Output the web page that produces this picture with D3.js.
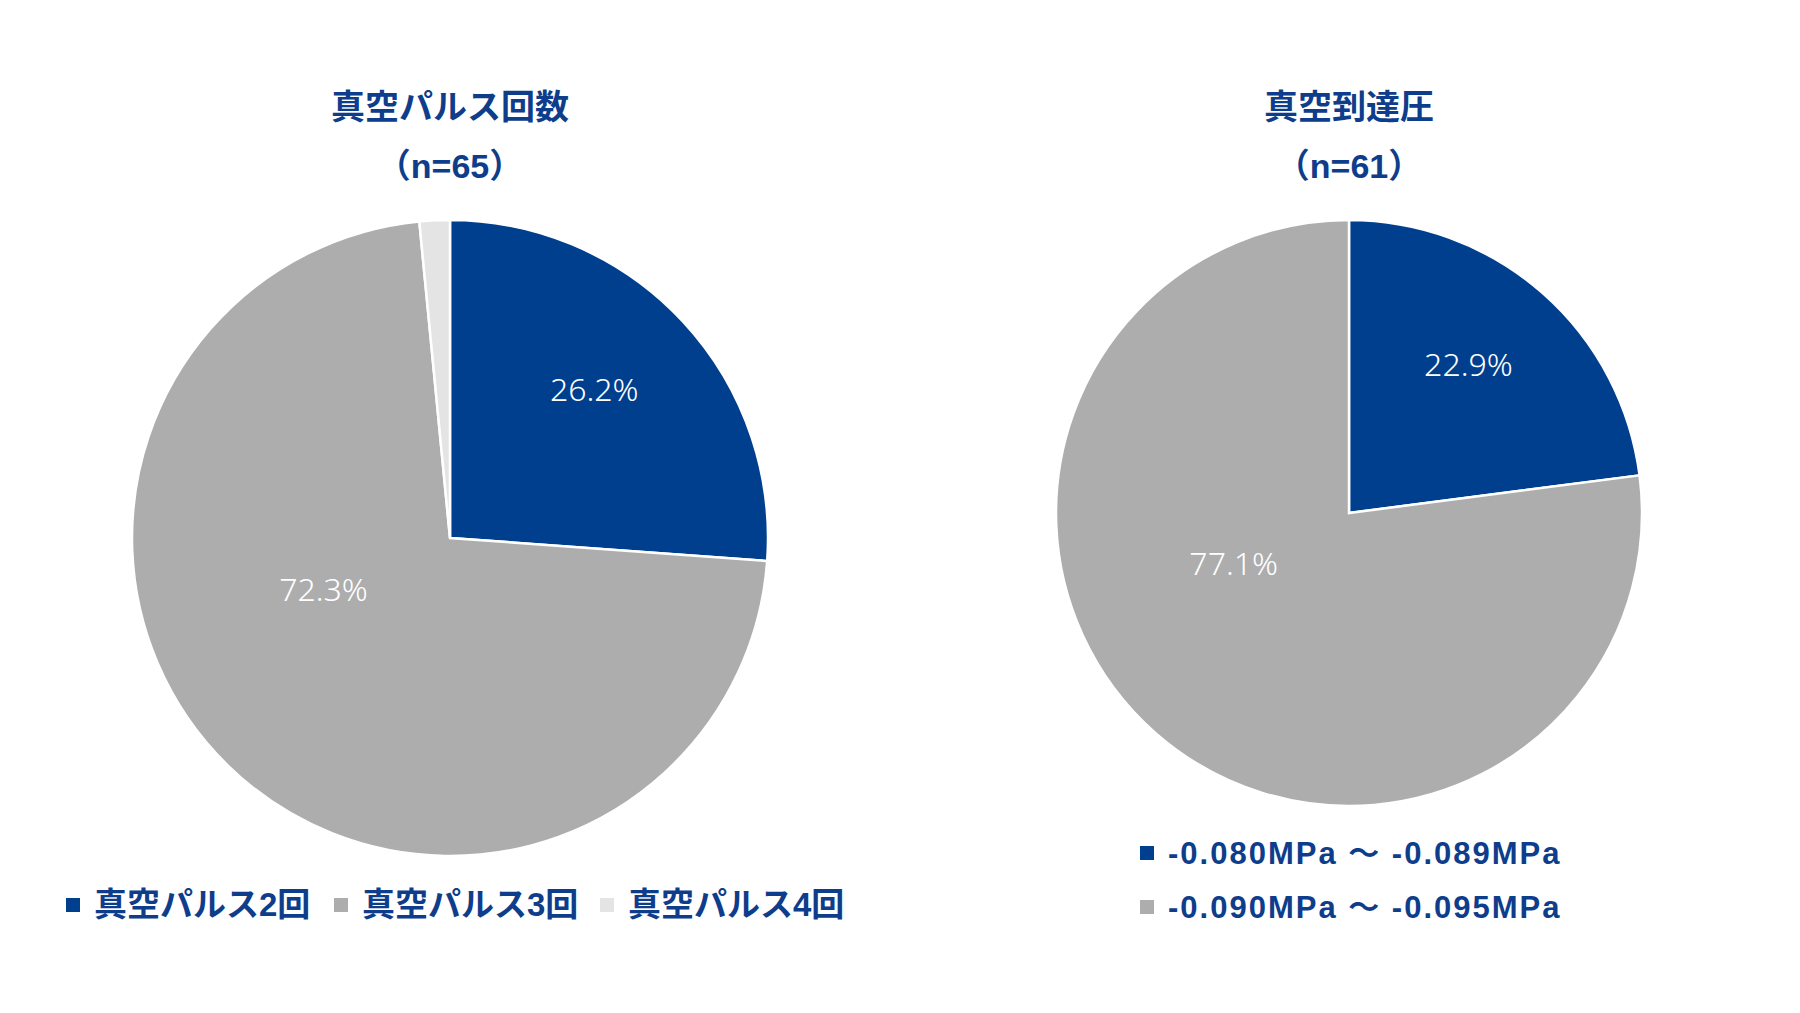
<!DOCTYPE html>
<meta charset="utf-8">
<style>
body { margin: 0; background: #fff; }
.title { font: bold 34px "Liberation Sans", "Noto Sans CJK JP", sans-serif; fill: #0e3d8b; text-anchor: middle; }
.pct { font: 300 32px "Noto Sans", sans-serif; fill: #fff; text-anchor: middle; }
.legend text { font: bold 33px "Liberation Sans", "Noto Sans CJK JP", sans-serif; fill: #0e3d8b; }
.legend.stack text { font-size: 31px; letter-spacing: 2px; }
</style>
<body>
<script src="https://cdn.jsdelivr.net/npm/d3@7"></script>
<script>
// left chart: 真空パルス回数
var pulseCats = ["真空パルス2回", "真空パルス3回", "真空パルス4回"];
var pulseVals = [17, 47, 1];
var pulseLabels = ["26.2%", "72.3%", ""];
// right chart: 真空到達圧
var pressCats = ["-0.080MPa ～ -0.089MPa", "-0.090MPa ～ -0.095MPa"];
var pressVals = [14, 47];
var pressLabels = ["22.9%", "77.1%"];

var colors = ["#003f8e", "#adadad", "#e4e4e4"];

var svg = d3.select("body").append("svg")
    .attr("width", 1800)
    .attr("height", 1013);

function drawPie(cx, cy, r, title, sub, cats, vals, labels) {
  var g = svg.append("g").attr("transform", "translate(" + cx + "," + cy + ")");
  var pie = d3.pie().sort(null)(vals);
  var arc = d3.arc().innerRadius(0).outerRadius(r);
  var total = d3.sum(vals);

  g.selectAll("path")
      .data(pie)
    .enter().append("path")
      .attr("d", arc)
      .attr("fill", function(d, i) { return colors[i]; })
      .attr("stroke", "#fff")
      .attr("stroke-width", 2.5);

  // excel-ish label placement: small slices near the middle angle, big ones nearer the start
  g.selectAll(".pct")
      .data(pie)
    .enter().append("text")
      .attr("class", "pct")
      .attr("transform", function(d) {
        var share = d.value / total;
        var lr = r * (share < 0.5 ? 0.65 : 0.43);
        var a = d.startAngle + (d.endAngle - d.startAngle) * (share < 0.5 ? 0.47 : 0.59);
        return "translate(" + (lr * Math.sin(a)) + "," + (-lr * Math.cos(a)) + ")";
      })
      .attr("dy", "0.35em")
      .text(function(d, i) { return labels[i]; });

  svg.append("text").attr("class", "title")
      .attr("x", cx).attr("y", 119).text(title);
  svg.append("text").attr("class", "title")
      .attr("x", cx).attr("y", 178).text(sub);
}

drawPie(450, 538, 318, "真空パルス回数", "（n=65）", pulseCats, pulseVals, pulseLabels);
drawPie(1349, 513, 293, "真空到達圧", "（n=61）", pressCats, pressVals, pressLabels);

// left legend, one row
var legL = svg.append("g").attr("class", "legend");
var xs = [66, 334, 600];
pulseCats.forEach(function(c, i) {
  legL.append("rect").attr("x", xs[i]).attr("y", 898).attr("width", 14).attr("height", 14)
      .attr("fill", colors[i]);
  legL.append("text").attr("x", xs[i] + 28).attr("y", 916).text(c);
});

// right legend, stacked
var legR = svg.append("g").attr("class", "legend stack");
pressCats.forEach(function(c, i) {
  var y = 853 + i * 54;
  legR.append("rect").attr("x", 1140).attr("y", y - 7).attr("width", 14).attr("height", 14)
      .attr("fill", colors[i]);
  legR.append("text").attr("x", 1168).attr("y", y + 11).text(c);
});
</script>
</body>
</html>
